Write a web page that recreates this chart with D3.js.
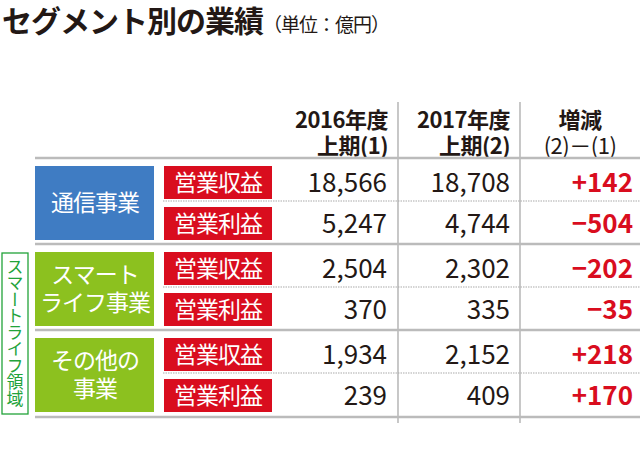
<!DOCTYPE html><html><head><meta charset="utf-8"><script src="https://cdn.jsdelivr.net/npm/d3@7"></script>
<style>body{margin:0;background:#fff}text{font-family:"Noto Sans CJK JP",sans-serif}</style></head><body><svg id="c" width="640" height="467"></svg>
<script>
const segments=[["通信事業"],["スマート","ライフ事業"],["その他の","事業"]];
const metrics=["営業収益","営業利益"];
const fy2016=[18566,5247,2504,370,1934,239];
const fy2017=[18708,4744,2302,335,2152,409];
const diffs=[142,-504,-202,-35,218,170];
const headers=[["2016年度","上期(1)"],["2017年度","上期(2)"],["増減","(2)－(1)"]];
const svg=d3.select("#c");
const fmt=d3.format(",");
const y=d3.scaleLinear().domain([0,6]).range([162,420]);
const segColor=["#3f7cc3","#8cc11f","#8cc11f"];
const t=svg.append("text").attr("x",2).attr("y",32);
t.append("tspan").text("セグメント別の業績").attr("font-size",30).attr("font-weight","bold").attr("fill","#231815").attr("letter-spacing",-1);
t.append("tspan").text("（単位：億円）").attr("font-size",19).attr("fill","#231815").attr("letter-spacing",-1);
[398,520].forEach(x=>svg.append("line").attr("x1",x).attr("x2",x).attr("y1",102).attr("y2",423).attr("stroke","#aaa").attr("stroke-width",1.3));
const hx=[388,510,580];
headers.forEach((h,i)=>{
 h.forEach((s,j)=>svg.append("text").attr("x",hx[i]).attr("y",128+j*26).attr("text-anchor",i<2?"end":"middle")
  .attr("font-size",22).attr("font-weight",(i==2&&j==1)?"normal":"bold").attr("fill","#231815").attr("letter-spacing",-0.5).text(s));
});
[0,2,4,6].forEach(k=>{const yy=y(k)-4+(k==6?1:0);svg.append("line").attr("x1",35).attr("x2",640).attr("y1",yy).attr("y2",yy).attr("stroke","#bbb").attr("stroke-width",2.5);});
[1,3,5].forEach(k=>svg.append("line").attr("x1",163).attr("x2",640).attr("y1",y(k)-4).attr("y2",y(k)-4).attr("stroke","#aaa").attr("stroke-dasharray","1.5,1").attr("stroke-width",1.2));
segments.forEach((s,i)=>{
 const y0=y(i*2)+4,y1=y(i*2+2)-8;
 svg.append("rect").attr("x",35).attr("y",y0).attr("width",119).attr("height",y1-y0).attr("fill",segColor[i]);
 const cy=(y0+y1)/2;
 s.forEach((l,j)=>svg.append("text").attr("x",95).attr("y",cy+8+(j-(s.length-1)/2)*28).attr("text-anchor","middle").attr("font-size",23).attr("letter-spacing",-1).attr("fill","#fff").text(l));
});
for(let r=0;r<6;r++){
 const top=y(r)+(r%2?2:4),bot=y(r+1)-(r%2?8:6);
 svg.append("rect").attr("x",164).attr("y",top).attr("width",108).attr("height",bot-top).attr("fill","#d90d1e");
 const cy=(top+bot)/2+8;
 svg.append("text").attr("x",218).attr("y",cy).attr("text-anchor","middle").attr("font-size",23).attr("letter-spacing",-1).attr("fill","#fff").text(metrics[r%2]);
 svg.append("text").attr("x",387).attr("y",cy+1).attr("text-anchor","end").attr("font-size",26).attr("fill","#231815").text(fmt(fy2016[r]));
 svg.append("text").attr("x",510).attr("y",cy+1).attr("text-anchor","end").attr("font-size",26).attr("fill","#231815").text(fmt(fy2017[r]));
 svg.append("text").attr("x",633).attr("y",cy+1).attr("text-anchor","end").attr("font-size",26).attr("font-weight","bold").attr("fill","#d90d1e").text((diffs[r]>0?"+":"−")+Math.abs(diffs[r]));
}
svg.append("rect").attr("x",2).attr("y",253).attr("width",26).attr("height",161).attr("fill","#fff").attr("stroke","#22a33a").attr("stroke-width",1.3);
svg.append("text").attr("x",15).attr("y",258).attr("font-size",17).attr("fill","#22a33a").attr("writing-mode","vertical-rl").attr("letter-spacing",-0.5).attr("dominant-baseline","central").text("スマートライフ領域");
</script></body></html>
